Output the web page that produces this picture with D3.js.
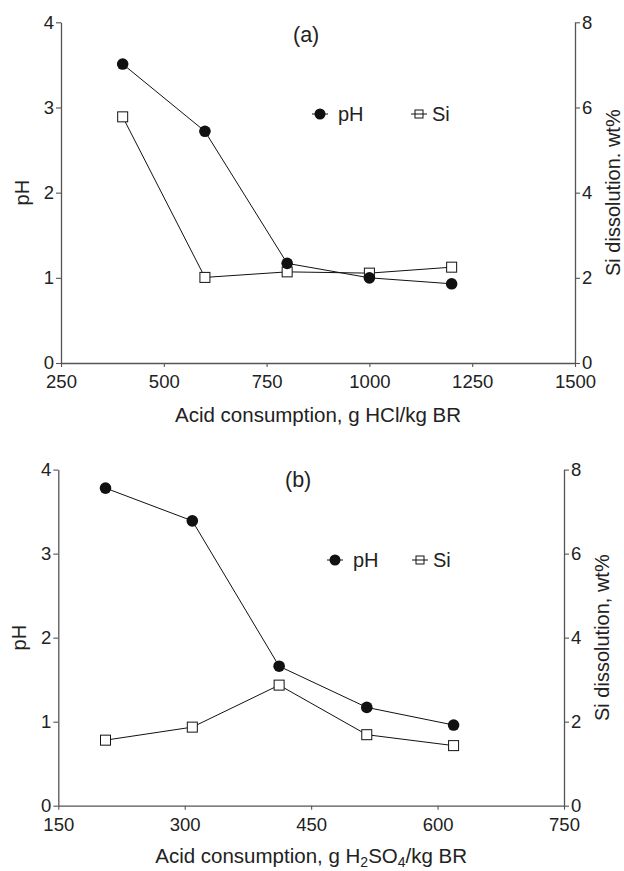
<!DOCTYPE html>
<html>
<head>
<meta charset="utf-8">
<script src="https://cdn.jsdelivr.net/npm/d3@7"></script>
<style>
  body { margin: 0; background: #fff; }
  svg { display: block; }
  svg text { font-family: "Liberation Sans", Arial, sans-serif; }
</style>
</head>
<body>
<div id="chart"></div>
<script>
// (a) HCl leaching
const hclAcid = [400, 600, 800, 1000, 1200]
const hclPH = [3.51, 2.72, 1.17, 1.00, 0.93]
const hclSi = [5.78, 2.01, 2.14, 2.11, 2.25]
const hclXTicks = [250, 500, 750, 1000, 1250, 1500]

// (b) H2SO4 leaching
const sulfAcid = [206, 309, 412, 516, 619]
const sulfPH = [3.78, 3.39, 1.66, 1.17, 0.96]
const sulfSi = [1.56, 1.87, 2.87, 1.69, 1.43]
const sulfXTicks = [150, 300, 450, 600, 750]

const phTicks = [0, 1, 2, 3, 4]
const siTicks = [0, 2, 4, 6, 8]

const W = 624, H = 871
const svg = d3.select("#chart").append("svg")
    .attr("width", W)
    .attr("height", H)

const axisColor = "#555"
const textColor = "#222"
const fmt = d3.format("d")

function panel(cfg) {
    const x = d3.scaleLinear().domain(cfg.xDomain).range([cfg.left, cfg.right])
    const yL = d3.scaleLinear().domain([0, 4]).range([cfg.bottom, cfg.top])
    const yR = d3.scaleLinear().domain([0, 8]).range([cfg.bottom, cfg.top])

    const g = svg.append("g")

    function styleAxis(sel) {
        sel.attr("font-family", null).attr("font-size", null)
        sel.select(".domain").attr("stroke", axisColor).attr("stroke-width", 1.3)
        sel.selectAll(".tick line").attr("stroke", axisColor).attr("stroke-width", 1.1)
        sel.selectAll(".tick text")
            .attr("fill", textColor)
            .style("font-size", "18.5px")
    }

    g.append("g")
        .attr("transform", "translate(0," + cfg.bottom + ")")
        .call(d3.axisBottom(x).tickValues(cfg.xTicks).tickFormat(fmt).tickSize(4).tickSizeOuter(0).tickPadding(8))
        .call(styleAxis)

    g.append("g")
        .attr("transform", "translate(" + cfg.left + ",0)")
        .call(d3.axisLeft(yL).tickValues(phTicks).tickFormat(fmt).tickSize(5).tickSizeOuter(0).tickPadding(2))
        .call(styleAxis)

    g.append("g")
        .attr("transform", "translate(" + cfg.right + ",0)")
        .call(d3.axisRight(yR).tickValues(siTicks).tickFormat(fmt).tickSize(5).tickSizeOuter(0).tickPadding(2))
        .call(styleAxis)

    // y-axis titles
    const midY = (cfg.top + cfg.bottom) / 2
    g.append("text")
        .attr("transform", "translate(" + (cfg.left - 32) + "," + midY + ") rotate(-90)")
        .attr("text-anchor", "middle")
        .attr("fill", textColor)
        .style("font-size", "20px")
        .text("pH")
    g.append("text")
        .attr("transform", "translate(" + (cfg.right + 45) + "," + midY + ") rotate(-90)")
        .attr("text-anchor", "middle")
        .attr("fill", textColor)
        .style("font-size", "20px")
        .text(cfg.rightLabel)

    // x-axis title
    const xt = g.append("text")
        .attr("x", (cfg.left + cfg.right) / 2)
        .attr("y", cfg.bottom + cfg.xLabelOffset)
        .attr("text-anchor", "middle")
        .attr("fill", textColor)
        .style("font-size", "20.5px")
    let shifted = false
    cfg.xLabel.forEach(part => {
        const t = xt.append("tspan").text(part.t)
        if (part.sub) {
            t.attr("dy", 4).style("font-size", "14px")
            shifted = true
        } else if (shifted) {
            t.attr("dy", -4)
            shifted = false
        }
    })

    // panel tag
    g.append("text")
        .attr("x", cfg.tag.x)
        .attr("y", cfg.tag.y)
        .attr("fill", textColor)
        .style("font-size", "21.5px")
        .text(cfg.tag.t)

    const line = d3.line()

    // Si series
    const siPts = cfg.acid.map((a, i) => [x(a), yR(cfg.si[i])])
    g.append("path")
        .attr("d", line(siPts))
        .attr("fill", "none")
        .attr("stroke", "#111")
        .attr("stroke-width", 1)
    // pH series
    const phPts = cfg.acid.map((a, i) => [x(a), yL(cfg.ph[i])])
    g.append("path")
        .attr("d", line(phPts))
        .attr("fill", "none")
        .attr("stroke", "#111")
        .attr("stroke-width", 1)

    const s = 10
    g.selectAll(".sq")
        .data(siPts)
        .enter()
        .append("rect")
        .attr("x", d => d[0] - s / 2)
        .attr("y", d => d[1] - s / 2)
        .attr("width", s)
        .attr("height", s)
        .attr("fill", "#fff")
        .attr("stroke", "#111")
        .attr("stroke-width", 1)

    g.selectAll(".dot")
        .data(phPts)
        .enter()
        .append("circle")
        .attr("cx", d => d[0])
        .attr("cy", d => d[1])
        .attr("r", 5.8)
        .attr("fill", "#111")

    // legend
    const lg = cfg.legend
    g.append("line")
        .attr("x1", lg.ph - 8).attr("x2", lg.ph + 8)
        .attr("y1", lg.y).attr("y2", lg.y)
        .attr("stroke", "#111")
    g.append("circle")
        .attr("cx", lg.ph).attr("cy", lg.y).attr("r", 5.5)
        .attr("fill", "#111")
    g.append("text")
        .attr("x", lg.ph + 18).attr("y", lg.y + 7)
        .attr("fill", textColor)
        .style("font-size", "20px")
        .text("pH")

    const ls = 8
    g.append("rect")
        .attr("x", lg.si - ls / 2).attr("y", lg.y - ls / 2)
        .attr("width", ls).attr("height", ls)
        .attr("fill", "#fff").attr("stroke", "#111")
    g.append("line")
        .attr("x1", lg.si - 8).attr("x2", lg.si + 8)
        .attr("y1", lg.y).attr("y2", lg.y)
        .attr("stroke", "#111")
    g.append("text")
        .attr("x", lg.si + 13).attr("y", lg.y + 7)
        .attr("fill", textColor)
        .style("font-size", "20px")
        .text("Si")
}

panel({
    left: 61, right: 575, top: 22.3, bottom: 363,
    xDomain: [250, 1500], xTicks: hclXTicks,
    acid: hclAcid, ph: hclPH, si: hclSi,
    rightLabel: "Si dissolution. wt%",
    xLabel: [{ t: "Acid consumption, g HCl/kg BR" }],
    xLabelOffset: 59,
    tag: { t: "(a)", x: 293, y: 42 },
    legend: { ph: 320, si: 419, y: 114 }
})

panel({
    left: 58.3, right: 564, top: 469.6, bottom: 805.7,
    xDomain: [150, 750], xTicks: sulfXTicks,
    acid: sulfAcid, ph: sulfPH, si: sulfSi,
    rightLabel: "Si dissolution, wt%",
    xLabel: [{ t: "Acid consumption, g H" }, { t: "2", sub: true }, { t: "SO" }, { t: "4", sub: true }, { t: "/kg BR" }],
    xLabelOffset: 57,
    tag: { t: "(b)", x: 285, y: 487 },
    legend: { ph: 335, si: 420, y: 560 }
})
</script>
</body>
</html>
